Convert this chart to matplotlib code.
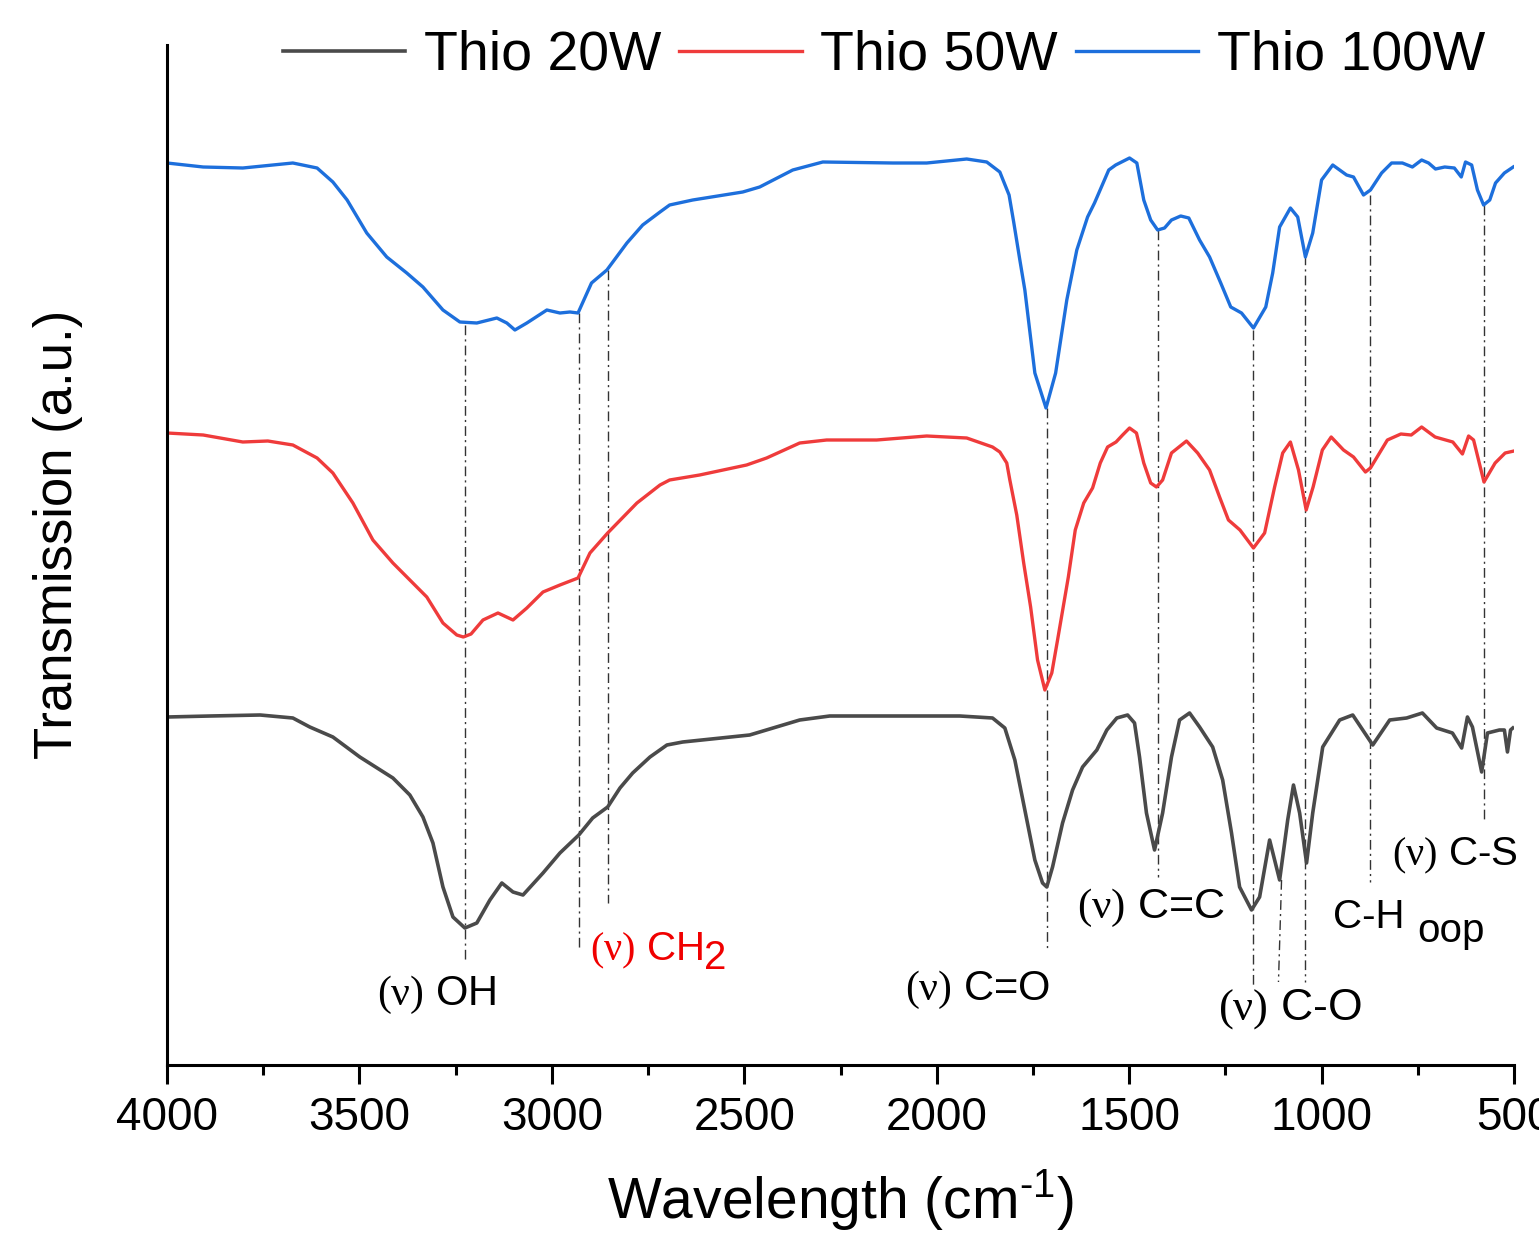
import matplotlib
matplotlib.use("Agg")
import matplotlib.pyplot as plt
from matplotlib.ticker import MultipleLocator

plt.rcParams['font.family'] = ['Liberation Sans', 'DejaVu Sans']
plt.rcParams['mathtext.fontset'] = 'custom'
plt.rcParams['mathtext.rm'] = 'Liberation Sans'
plt.rcParams['mathtext.sf'] = 'Liberation Sans'
plt.rcParams['mathtext.tt'] = 'Liberation Serif'

# Espectros FTIR (numero de onda en cm-1, transmision a.u.)
wn_100 = [4000, 3906, 3803, 3673, 3610, 3569, 3532, 3481, 3429, 3377, 3335, 3283,
          3239, 3195, 3143, 3117, 3096, 3065, 3013, 2979, 2953, 2932, 2897, 2857,
          2805, 2764, 2719, 2694, 2634, 2504, 2460, 2374, 2296, 2114, 2026, 1922,
          1870, 1836, 1812, 1800, 1784, 1771, 1745, 1716, 1691, 1662, 1636, 1608,
          1590, 1553, 1535, 1499, 1480, 1462, 1444, 1426, 1408, 1390, 1366, 1345,
          1317, 1291, 1262, 1236, 1208, 1177, 1145, 1127, 1109, 1081, 1062, 1042,
          1023, 1000, 971, 935, 917, 891, 873, 844, 818, 790, 764, 740, 722, 704,
          680, 655, 637, 626, 610, 595, 579, 563, 548, 525, 502]
t_100 = [90.2, 89.8, 89.7, 90.2, 89.7, 88.3, 86.5, 83.2, 80.8, 79.2, 77.8, 75.5,
         74.3, 74.2, 74.7, 74.2, 73.5, 74.2, 75.5, 75.2, 75.3, 75.2, 78.2, 79.5,
         82.2, 84.0, 85.3, 86.0, 86.5, 87.3, 87.8, 89.5, 90.3, 90.2, 90.2, 90.6,
         90.3, 89.3, 87.0, 84.3, 80.5, 77.5, 69.2, 65.7, 69.2, 76.5, 81.5, 84.8,
         86.2, 89.5, 90.0, 90.7, 90.2, 86.5, 84.5, 83.5, 83.7, 84.5, 84.9, 84.7,
         82.5, 80.8, 78.2, 75.8, 75.2, 73.7, 75.8, 79.2, 83.8, 85.7, 84.8, 80.8,
         83.2, 88.5, 90.0, 89.0, 88.8, 87.0, 87.5, 89.2, 90.2, 90.2, 89.8, 90.5,
         90.2, 89.6, 89.8, 89.7, 88.8, 90.3, 90.0, 87.5, 86.0, 86.5, 88.2, 89.2, 89.8]

wn_50 = [4000, 3906, 3803, 3738, 3673, 3610, 3569, 3517, 3465, 3413, 3369, 3325,
         3283, 3247, 3230, 3210, 3179, 3140, 3101, 3065, 3023, 2979, 2932, 2901,
         2855, 2779, 2719, 2694, 2616, 2494, 2442, 2356, 2286, 2156, 2026, 1922,
         1855, 1836, 1818, 1810, 1792, 1774, 1756, 1738, 1719, 1701, 1686, 1658,
         1640, 1618, 1595, 1575, 1556, 1534, 1517, 1499, 1481, 1462, 1444, 1429,
         1413, 1390, 1351, 1322, 1291, 1265, 1242, 1212, 1177, 1148, 1122, 1101,
         1081, 1060, 1040, 1022, 998, 975, 943, 917, 886, 873, 829, 794, 767, 740,
         705, 659, 634, 618, 605, 578, 549, 523, 500]
t_50 = [63.2, 63.0, 62.3, 62.4, 62.0, 60.7, 59.2, 56.2, 52.5, 50.2, 48.5, 46.8,
        44.2, 43.0, 42.8, 43.1, 44.5, 45.2, 44.5, 45.7, 47.3, 48.0, 48.7, 51.2,
        53.2, 56.2, 58.0, 58.5, 59.0, 60.0, 60.7, 62.2, 62.5, 62.5, 62.9, 62.7,
        61.8, 61.3, 60.2, 58.5, 55.0, 50.2, 45.8, 40.5, 37.5, 39.2, 42.5, 48.8,
        53.5, 56.2, 57.7, 60.2, 61.8, 62.3, 63.0, 63.7, 63.2, 60.2, 58.2, 57.8,
        58.5, 61.2, 62.4, 61.2, 59.5, 56.8, 54.5, 53.5, 51.7, 53.2, 57.8, 61.2,
        62.3, 59.5, 55.5, 57.8, 61.5, 62.8, 61.5, 60.8, 59.3, 59.7, 62.5, 63.1,
        63.0, 63.8, 62.8, 62.3, 61.1, 62.9, 62.5, 58.3, 60.2, 61.2, 61.4]

wn_20 = [4000, 3888, 3758, 3673, 3629, 3569, 3499, 3413, 3369, 3335, 3309, 3283,
         3257, 3226, 3195, 3161, 3130, 3101, 3075, 3023, 2979, 2930, 2894, 2855,
         2823, 2790, 2745, 2701, 2660, 2486, 2356, 2278, 2096, 1940, 1855, 1823,
         1797, 1771, 1745, 1725, 1714, 1699, 1673, 1647, 1621, 1584, 1558, 1532,
         1504, 1486, 1473, 1455, 1434, 1413, 1390, 1369, 1343, 1317, 1283, 1257,
         1234, 1213, 1182, 1161, 1135, 1109, 1088, 1073, 1057, 1039, 1023, 997,
         953, 919, 893, 867, 823, 779, 738, 701, 660, 636, 621, 608, 584, 569, 538,
         525, 517, 509, 503]
t_20 = [34.8, 34.9, 35.0, 34.7, 33.8, 32.8, 30.8, 28.7, 27.0, 24.8, 22.2, 17.8,
        14.8, 13.7, 14.2, 16.5, 18.2, 17.3, 17.0, 19.2, 21.2, 23.0, 24.7, 25.8,
        27.7, 29.2, 30.8, 32.0, 32.3, 33.0, 34.5, 34.9, 34.9, 34.9, 34.7, 33.7,
        30.5, 25.5, 20.5, 18.2, 17.8, 19.8, 24.2, 27.5, 29.8, 31.5, 33.5, 34.7,
        35.0, 34.2, 30.8, 25.2, 21.5, 25.2, 30.8, 34.5, 35.2, 33.8, 31.8, 28.5,
        23.2, 17.8, 15.5, 16.8, 22.5, 18.5, 24.5, 28.0, 25.2, 20.2, 25.2, 31.8,
        34.5, 35.0, 33.5, 32.0, 34.5, 34.7, 35.2, 33.7, 33.2, 31.7, 34.8, 33.8,
        29.3, 33.2, 33.5, 33.5, 31.3, 33.5, 33.7]

# Bandas asignadas: (numero de onda arriba, y arriba, numero de onda abajo, y abajo)
bandas = [(3226, 74.0, 3226, 10.5), (2930, 75.2, 2930, 11.7), (2855, 79.5, 2855, 16.2),
          (1714, 65.7, 1714, 11.5), (1426, 83.5, 1426, 18.8), (1179, 73.5, 1179, 8.0),
          (1104, 18.5, 1112, 8.3), (1042, 81.0, 1042, 8.3), (873, 87.0, 873, 18.3),
          (579, 86.0, 579, 24.3)]

fig = plt.figure(figsize=(15.39, 12.34), dpi=100)
ax = fig.add_axes([167 / 1539, 1 - 1065 / 1234, 1347 / 1539, 1020 / 1234])

l20, = ax.plot(wn_20, t_20, color='#4a4a4a', lw=2.6, solid_joinstyle='round')
l50, = ax.plot(wn_50, t_50, color='#ef3b3b', lw=2.4, solid_joinstyle='round')
l100, = ax.plot(wn_100, t_100, color='#1d6fdc', lw=2.4, solid_joinstyle='round')

for x0, y0, x1, y1 in bandas:
    ax.plot([x0, x1], [y0, y1], color='#333333', lw=1.0,
            linestyle=(0, (7, 3, 1.5, 3)), zorder=1)

# Etiquetas de las bandas (el "(v)" va en letra serif)
nu = r'$\mathtt{(\nu)}$'
ax.text(3455, 6.0, nu + ' OH', fontsize=30, ha='left', va='baseline')
ax.text(2901, 10.5, nu + ' CH', fontsize=29, color='#f00000', ha='left', va='baseline')
ax.text(2605, 9.6, '2', fontsize=29, color='#f00000', ha='left', va='baseline')
ax.text(2083, 6.5, nu + ' C=O', fontsize=30, ha='left', va='baseline')
ax.text(1636, 14.7, nu + ' C=C', fontsize=31, ha='left', va='baseline')
ax.text(1270, 4.5, nu + ' C-O', fontsize=32, ha='left', va='baseline')
ax.text(971, 13.7, 'C-H', fontsize=29, ha='left', va='baseline')
ax.text(752, 12.3, 'oop', fontsize=29, ha='left', va='baseline')
ax.text(818, 20.0, nu + ' C-S', fontsize=29, ha='left', va='baseline')

ax.set_xlim(4000, 500)
ax.set_ylim(0, 102)
ax.xaxis.set_major_locator(MultipleLocator(500))
ax.xaxis.set_minor_locator(MultipleLocator(250))
ax.set_yticks([])
ax.tick_params(axis='x', which='major', direction='out', length=14, width=2.2,
               labelsize=33, pad=8)
ax.tick_params(axis='x', which='minor', direction='out', length=7, width=2.2)
for s in ['top', 'right']:
    ax.spines[s].set_visible(False)
for s in ['left', 'bottom']:
    ax.spines[s].set_linewidth(2.2)

ax.set_xlabel(r'Wavelength (cm$^{\text{-1}}$)', fontsize=41)
ax.xaxis.set_label_coords(0.5, -0.10)
ax.set_ylabel('Transmission (a.u.)', fontsize=38)
ax.yaxis.set_label_coords(-0.062, 0.52)

fig.legend([l20, l50, l100], ['Thio 20W', 'Thio 50W', 'Thio 100W'],
           loc='center', bbox_to_anchor=(884 / 1539, 1 - 56 / 1234), ncol=3,
           frameon=False, fontsize=40, handlelength=2.2, handletextpad=0.33,
           columnspacing=0.33, borderpad=0, borderaxespad=0)

fig.savefig('out.png', dpi=100)
